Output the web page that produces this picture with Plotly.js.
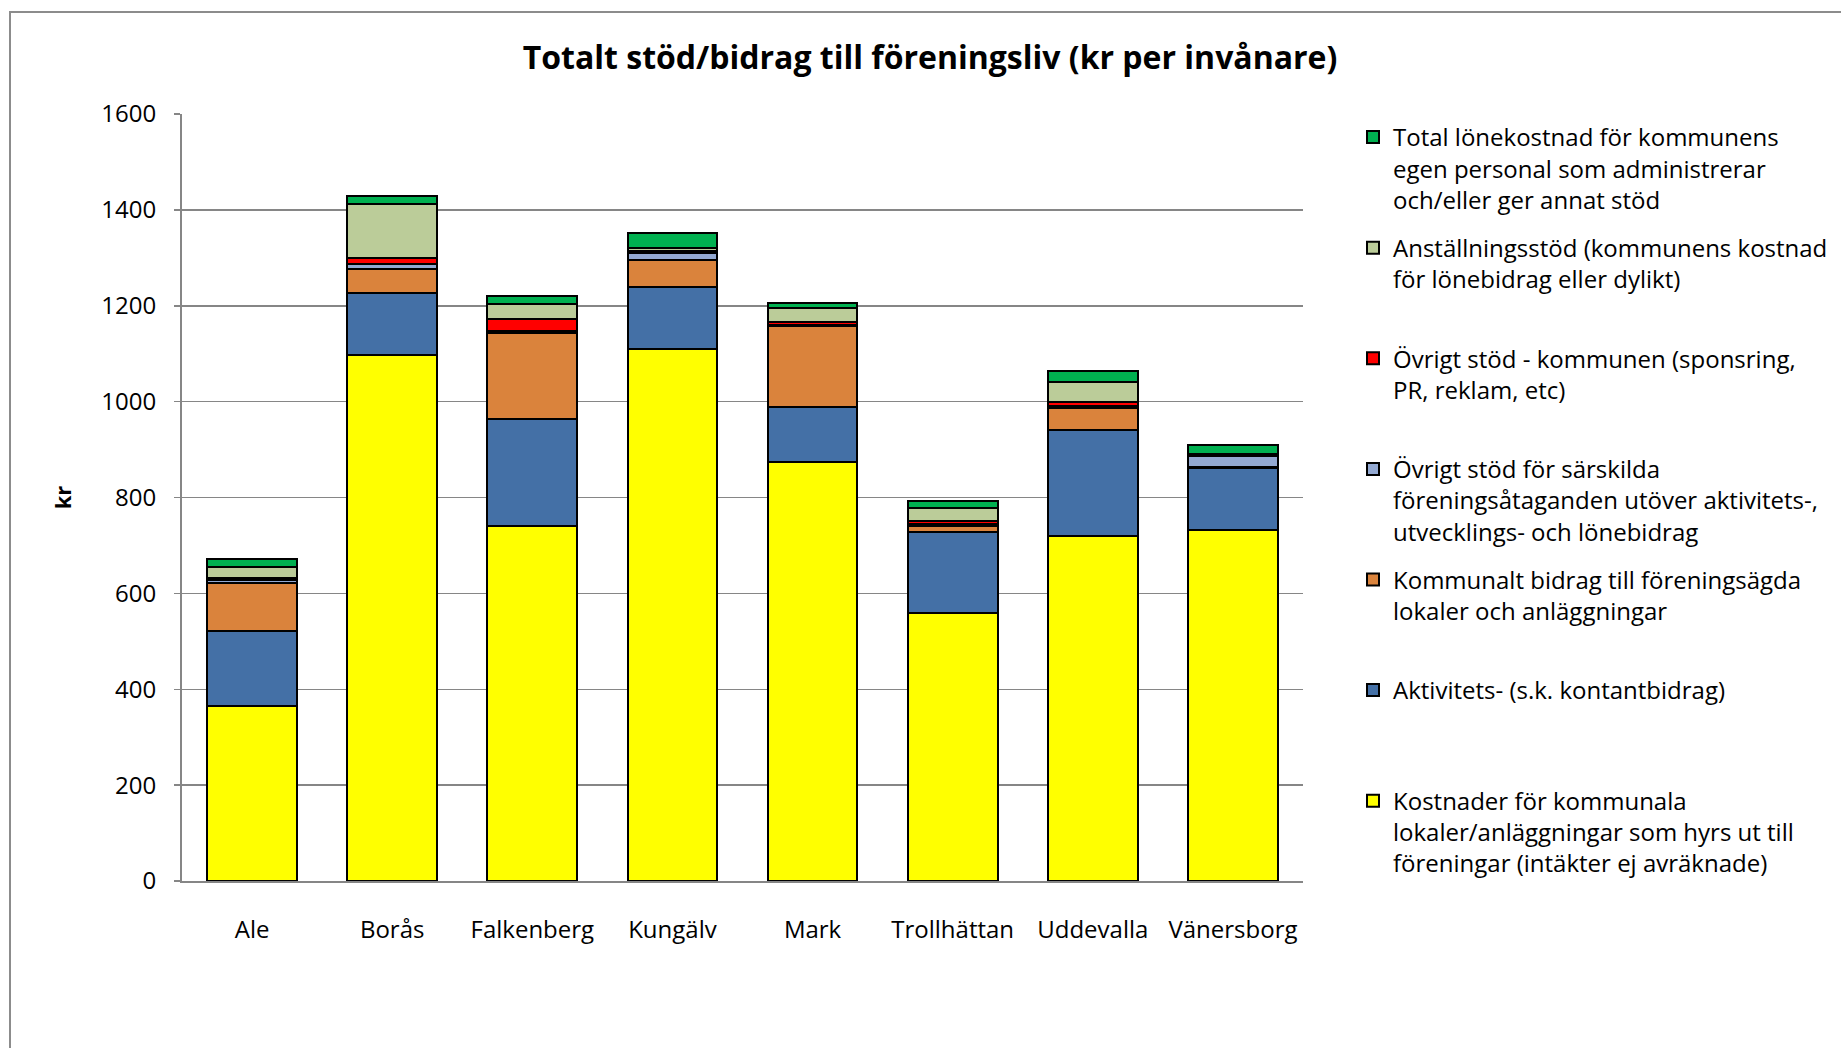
<!DOCTYPE html>
<html>
<head>
<meta charset="utf-8">
<script src="https://cdn.plot.ly/plotly-3.0.1.min.js"></script>
<style>
html,body{margin:0;padding:0;background:#fff;}
#chart{width:1841px;height:1048px;}
</style>
</head>
<body>
<div id="chart"></div>
<script>
const categories = ["Ale","Borås","Falkenberg","Kungälv","Mark","Trollhättan","Uddevalla","Vänersborg"];

const kostnaderLokaler   = [365, 1098, 741, 1109, 875, 560, 720, 733];
const aktivitetsBidrag   = [156, 128, 222, 131, 113, 168, 220, 128];
const bidragForeningsagda= [100, 50, 180, 55, 170, 12, 46, 3];
const ovrigtSarskilda    = [7, 12, 4, 15, 2, 4, 4, 23];
const ovrigtKommunen     = [5, 12, 26, 4, 7, 6, 10, 3];
const anstallningsstod   = [21, 112, 30, 6, 29, 29, 40, 0];
const lonekostnad        = [18, 16, 18, 32, 10, 14, 24, 20];

const seriesNames = [
  "Kostnader för kommunala<br>lokaler/anläggningar som hyrs ut till<br>föreningar (intäkter ej avräknade)",
  "Aktivitets- (s.k. kontantbidrag)",
  "Kommunalt bidrag till föreningsägda<br>lokaler och anläggningar",
  "Övrigt stöd för särskilda<br>föreningsåtaganden utöver aktivitets-,<br>utvecklings- och lönebidrag",
  "Övrigt stöd - kommunen (sponsring,<br>PR, reklam, etc)",
  "Anställningsstöd (kommunens kostnad<br>för lönebidrag eller dylikt)",
  "Total lönekostnad för kommunens<br>egen personal som administrerar<br>och/eller ger annat stöd"
];
const seriesValues = [kostnaderLokaler, aktivitetsBidrag, bidragForeningsagda, ovrigtSarskilda, ovrigtKommunen, anstallningsstod, lonekostnad];
const seriesColors = ["#FFFF00","#4470A6","#DA833C","#93A9D2","#FF0000","#BBCC99","#00B050"];

function padLines(s){
  const n = s.split("<br>").length;
  let out = s;
  for(let i=n;i<3;i++) out += "<br>\u00a0";
  return out;
}

const traces = seriesValues.map((vals,i)=>({
  type:"bar",
  x: categories,
  y: vals,
  name: padLines(seriesNames[i]),
  legendgroup: "g"+i,
  legendrank: seriesValues.length - i,
  marker:{color:seriesColors[i], line:{color:"#000000", width:2}},
  hoverinfo:"x+y"
}));

const W = 1841, H = 1048;
const plotL = 182, plotR = 1303, plotT = 114, plotB = 881;
const pw = plotR-plotL, ph = plotB-plotT;
const px = v => (v-plotL)/pw;
const py = v => (plotB-v)/ph;

const layout = {
  width: W, height: H,
  paper_bgcolor:"#ffffff", plot_bgcolor:"#ffffff",
  margin:{l:plotL, r:W-plotR, t:plotT, b:H-plotB, pad:0},
  barmode:"stack",
  bargap:0.36,
  font:{family:"Open Sans, sans-serif", color:"#000000", size:22},
  title:{text:"<b>Totalt stöd/bidrag till föreningsliv (kr per invånare)</b>",
         font:{family:"Open Sans, sans-serif", size:32, color:"#000"},
         xref:"container", x:930/W, xanchor:"center",
         yref:"container", y:1-58/H, yanchor:"middle"},
  xaxis:{
    type:"category",
    showgrid:false,
    showline:true, linecolor:"#868686", linewidth:2,
    ticks:"", ticklabelstandoff:26,
    tickfont:{size:24, family:"Open Sans, sans-serif"},
    fixedrange:true
  },
  yaxis:{
    range:[0,1600], dtick:200, tick0:0,
    showgrid:true, gridcolor:"#868686", gridwidth:1.5,
    showline:true, linecolor:"#868686", linewidth:2,
    ticks:"outside", ticklen:6, tickcolor:"#868686", tickwidth:1.5,
    ticklabelstandoff:13,
    tickfont:{size:24, family:"Open Sans, sans-serif"},
    zeroline:false,
    title:{text:"<b>kr</b>", font:{size:22, family:"Open Sans, sans-serif"}, standoff:24},
    fixedrange:true
  },
  legend:{
    xref:"container", yref:"container",
    x:1353/W, xanchor:"left",
    y:1-115/H, yanchor:"top",
    traceorder:"grouped",
    valign:"top",
    tracegroupgap:14,
    maxheight:1000,
    font:{size:24, family:"Open Sans, sans-serif", color:"#000"},
    bgcolor:"rgba(0,0,0,0)",
    itemclick:false, itemdoubleclick:false
  },
  shapes:[{
    type:"rect", xref:"paper", yref:"paper", layer:"below",
    x0:px(10), x1:px(W+20), y0:py(H+20), y1:py(12),
    line:{color:"#8C8C8C", width:2}, fillcolor:"rgba(0,0,0,0)"
  }],
  showlegend:true
};

Plotly.newPlot("chart", traces, layout, {displayModeBar:false, staticPlot:true});
</script>
</body>
</html>
